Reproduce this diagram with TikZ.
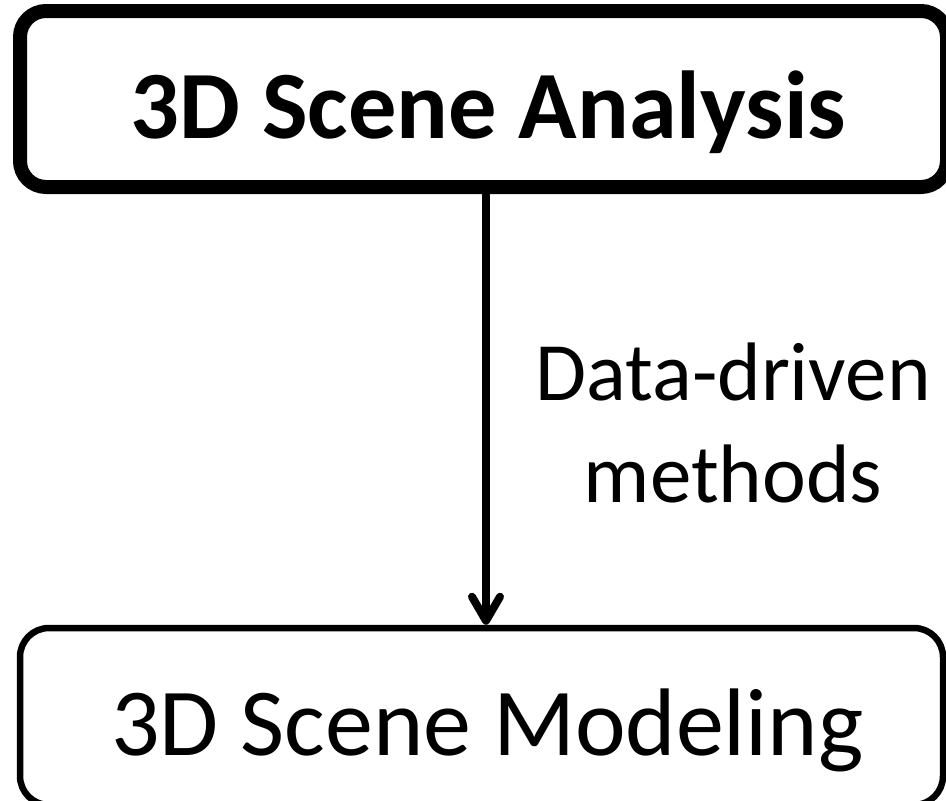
\documentclass[tikz,border=0pt]{standalone}
\usepackage{fontspec}
\setmainfont{Carlito}
\usetikzlibrary{arrows.meta}

\begin{document}
\begin{tikzpicture}[x=1pt,y=-1pt,
  stagebox/.style={draw=black, rounded corners=26pt, inner sep=0pt, outer sep=auto},
  mainbox/.style={stagebox, line width=14pt, minimum width=927pt, minimum height=176pt},
  subbox/.style={stagebox, line width=6.5pt, rounded corners=29pt, minimum width=923pt, minimum height=177pt},
  flow/.style={line width=8pt, -{Straight Barb[length=24pt,width=28pt,round]}},
  boxtext/.style={inner sep=0pt, anchor=base}
]
\useasboundingbox (0,0) rectangle (946,801);

% two stages
\node[mainbox] (analysis) at (483.5,99) {};
\node[subbox] (modeling) at (481.5,716.5) {};

\node[boxtext, font=\fontsize{96.5}{110}\selectfont\bfseries] (analysistext) at (488.5,138) {3D Scene Analysis};
\node[boxtext, font=\fontsize{96}{110}\selectfont] (modelingtext) at (487.5,755) {3D Scene Modeling};

% connecting arrow
\draw[flow] ([xshift=2.5pt]analysis.south) -- ([xshift=4.5pt]modeling.north);

% label: the base anchor sits on the last line
\node[boxtext, align=center, font=\fontsize{83}{102}\selectfont] (method) at (733,502) {Data-driven\\methods};
\end{tikzpicture}
\end{document}
